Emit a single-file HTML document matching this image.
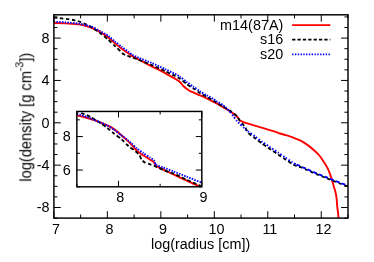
<!DOCTYPE html>
<html><head><meta charset="utf-8"><style>html,body{margin:0;padding:0;background:#fff}body{width:374px;height:262px;overflow:hidden;position:relative;font-family:"Liberation Sans",sans-serif}</style></head><body>
<svg width="374" height="262" viewBox="0 0 374 262" style="position:absolute;left:0;top:0">
<rect width="374" height="262" fill="#fff"/>
<defs><clipPath id="mc"><rect x="53.9" y="14.8" width="294.1" height="203.3"/></clipPath><clipPath id="ic"><rect x="76.8" y="111.5" width="125.0" height="75.4"/></clipPath></defs>
<g clip-path="url(#mc)" fill="none" stroke-linejoin="round">
<path d="M53.7,23.0C55.0,23.0 62.6,23.2 65.4,23.4C68.2,23.6 76.5,24.1 78.7,24.4C80.9,24.7 83.9,25.4 85.4,25.8C86.9,26.2 90.6,27.4 92.1,28.0C93.6,28.6 97.7,30.9 98.8,31.4C99.9,31.9 100.6,32.2 101.7,32.9C102.8,33.6 106.9,36.2 108.4,37.4C109.9,38.6 113.6,42.1 115.1,43.4C116.6,44.7 120.2,47.7 121.7,48.8C123.2,49.9 127.3,52.5 128.4,53.3C129.5,54.1 131.1,55.4 131.4,55.7C132.2,56.1 136.1,58.2 138.4,59.4C140.7,60.6 148.7,64.9 151.7,66.4C154.7,67.9 162.9,71.9 165.1,73.1C167.3,74.3 170.6,76.3 171.7,76.9C172.8,77.5 174.1,78.0 175.0,78.6C175.9,79.2 179.1,81.2 180.0,82.0C180.9,82.8 182.3,85.0 183.3,86.0C184.3,87.0 188.3,90.0 189.4,90.7C190.5,91.4 192.2,92.0 193.4,92.5C194.6,93.0 198.6,94.8 200.1,95.4C201.6,96.0 205.2,97.6 206.7,98.3C208.2,99.0 212.3,101.2 213.4,101.8C214.5,102.4 215.6,102.8 216.7,103.4C217.8,104.0 221.9,106.5 223.4,107.4C224.9,108.3 228.6,110.4 230.1,111.4C231.6,112.4 235.6,115.1 236.7,116.1C237.8,117.1 239.5,120.1 239.9,120.6C240.8,120.9 246.0,122.9 248.4,123.7C250.8,124.5 258.7,126.8 261.7,127.7C264.7,128.6 273.1,131.1 275.1,131.7C277.1,132.3 278.7,133.1 280.0,133.5C281.3,133.9 285.2,134.9 286.7,135.4C288.2,135.9 291.9,137.1 293.4,137.7C294.9,138.3 298.6,139.7 300.1,140.4C301.6,141.1 305.2,143.4 306.7,144.4C308.2,145.4 312.0,148.5 313.4,149.7C314.8,150.9 317.9,153.7 319.0,155.0C320.1,156.3 322.7,160.2 323.7,161.7C324.7,163.2 327.0,166.9 327.7,168.4C328.4,169.9 329.9,173.6 330.4,175.1C330.9,176.6 332.1,180.3 332.5,181.7C332.9,183.1 333.8,186.4 334.1,187.5C334.4,188.6 335.1,190.5 335.4,191.7C335.7,192.9 336.4,196.9 336.6,198.4C336.8,199.9 337.0,203.6 337.1,205.1C337.2,206.6 337.7,210.3 337.9,211.7C338.1,213.1 338.5,217.4 338.6,218.1" stroke="#ff0000" stroke-width="1.9"/>
<path d="M53.7,17.6C54.6,17.7 59.8,18.2 61.4,18.4C63.0,18.6 66.5,18.9 68.0,19.1C69.5,19.3 73.4,20.0 74.7,20.3C76.0,20.6 78.9,21.4 80.1,21.8C81.3,22.2 84.1,23.4 85.4,24.0C86.7,24.6 90.6,26.7 92.1,27.6C93.6,28.5 97.7,31.4 98.8,32.1C99.9,32.8 100.6,33.4 101.7,34.3C102.8,35.2 106.9,38.5 108.4,39.8C109.9,41.1 113.6,44.8 115.1,46.2C116.6,47.6 120.7,51.5 121.7,52.4C122.7,53.3 122.9,53.7 123.7,54.2C124.5,54.7 128.7,56.2 129.3,56.5C130.3,56.7 135.9,58.6 138.4,59.6C140.9,60.6 148.7,63.8 151.7,65.1C154.7,66.4 162.5,69.9 165.1,71.1C167.7,72.3 173.3,75.2 175.0,76.0C176.7,76.8 178.7,77.8 180.0,78.7C181.3,79.6 185.2,82.9 186.7,84.0C188.2,85.1 191.9,87.4 193.4,88.4C194.9,89.4 198.6,92.3 200.1,93.2C201.6,94.1 205.2,96.1 206.7,96.9C208.2,97.7 212.3,99.9 213.4,100.5C214.5,101.1 215.6,101.9 216.7,102.6C217.8,103.3 221.9,105.7 223.4,106.6C224.9,107.5 228.6,109.8 230.1,110.8C231.6,111.8 235.7,115.0 236.7,116.0C237.7,117.0 239.1,119.6 239.4,120.1C239.8,120.5 242.1,123.3 242.8,124.1C243.5,124.9 244.8,126.6 245.4,127.6C246.0,128.6 247.3,131.8 248.4,133.0C249.5,134.2 253.6,137.1 255.1,138.3C256.6,139.5 260.2,142.3 261.7,143.4C263.2,144.5 267.3,147.2 268.4,148.0C269.5,148.8 270.6,149.5 271.7,150.2C272.8,150.9 276.9,153.7 278.4,154.7C279.9,155.7 283.6,158.3 285.1,159.3C286.6,160.3 290.4,163.0 291.7,163.7C293.0,164.4 295.5,165.6 296.5,166.0C297.5,166.4 300.1,167.1 300.5,167.2" stroke="#000" stroke-width="1.8" stroke-dasharray="3.7 2.4" stroke-dashoffset="0"/>
<path d="M53.7,21.9C55.0,21.9 62.6,22.1 65.4,22.3C68.2,22.5 76.5,23.3 78.7,23.6C80.9,23.9 83.9,24.6 85.4,25.0C86.9,25.4 90.6,26.4 92.1,27.0C93.6,27.6 97.0,29.4 98.8,30.4C100.6,31.4 106.6,34.7 108.4,36.0C110.2,37.3 113.6,40.5 115.1,41.7C116.6,42.9 120.2,45.7 121.7,46.8C123.2,47.9 127.3,50.9 128.4,51.7C129.5,52.5 131.1,54.1 131.4,54.4C132.2,54.8 136.1,56.7 138.4,57.7C140.7,58.7 148.7,61.7 151.7,63.0C154.7,64.3 162.5,67.9 165.1,69.1C167.7,70.3 173.3,73.1 175.0,73.9C176.7,74.7 178.7,75.8 180.0,76.7C181.3,77.6 185.2,80.9 186.7,82.0C188.2,83.1 191.9,85.7 193.4,86.7C194.9,87.7 198.6,90.4 200.1,91.4C201.6,92.4 205.2,94.6 206.7,95.4C208.2,96.2 212.3,98.3 213.4,98.9C214.5,99.5 215.6,100.5 216.7,101.2C217.8,101.9 221.9,104.2 223.4,105.4C224.9,106.6 229.4,111.3 230.1,112.0" stroke="#0000ff" stroke-width="1.9" stroke-dasharray="1.5 1.25"/>
<path d="M230.1,112.0C230.5,112.5 232.7,115.1 233.4,116.1C234.1,117.1 236.1,119.9 236.7,120.7C237.3,121.5 238.1,122.1 239.0,123.0C239.9,123.9 243.4,127.4 244.4,128.4C245.4,129.4 247.2,130.8 248.4,131.7C249.6,132.6 253.6,135.4 255.1,136.5C256.6,137.6 260.2,140.4 261.7,141.5C263.2,142.6 267.3,145.3 268.4,146.1C269.5,146.9 270.6,147.6 271.7,148.3C272.8,149.0 276.9,151.8 278.4,152.8C279.9,153.8 283.6,156.4 285.1,157.4C286.6,158.4 290.4,161.1 291.7,161.9C293.0,162.7 296.0,164.3 296.5,164.6" stroke="#0000ff" stroke-width="1.9" stroke-dasharray="1.55 1.75"/>
<path d="M296.2,165.2C296.6,165.4 298.6,166.2 299.8,166.8C300.9,167.2 305.0,169.1 306.4,169.8C307.9,170.4 310.9,171.7 313.1,172.7C315.4,173.6 323.5,177.0 326.4,178.2C329.4,179.3 337.4,182.5 339.9,183.5C342.3,184.4 347.4,186.3 348.4,186.7" stroke="#000" stroke-width="1.8" stroke-dasharray="3.2 2.9" stroke-dashoffset="2.75"/>
<path d="M296.5,164.6C296.9,164.8 298.9,165.6 300.0,166.1C301.1,166.6 305.2,168.4 306.7,169.1C308.2,169.8 311.2,171.1 313.4,172.0C315.6,172.9 323.7,176.3 326.7,177.5C329.7,178.7 337.7,181.9 340.1,182.8C342.5,183.7 347.7,185.6 348.6,186.0" stroke="#0000ff" stroke-width="1.9" stroke-dasharray="3.8 2.3"/>
</g>
<path d="M53.90,218.10v-6.9M53.90,14.80v6.9M80.64,218.10v-3.6M80.64,14.80v3.6M107.37,218.10v-6.9M107.37,14.80v6.9M134.11,218.10v-3.6M134.11,14.80v3.6M160.85,218.10v-6.9M160.85,14.80v6.9M187.58,218.10v-3.6M187.58,14.80v3.6M214.32,218.10v-6.9M214.32,14.80v6.9M241.05,218.10v-3.6M241.05,14.80v3.6M267.79,218.10v-6.9M267.79,14.80v6.9M294.53,218.10v-3.6M294.53,14.80v3.6M321.26,218.10v-6.9M321.26,14.80v6.9M348.00,218.10v-3.6M348.00,14.80v3.6M53.90,218.10h3.6M348.00,218.10h-3.6M53.90,207.51h6.9M348.00,207.51h-6.9M53.90,196.92h3.6M348.00,196.92h-3.6M53.90,186.33h3.6M348.00,186.33h-3.6M53.90,175.75h3.6M348.00,175.75h-3.6M53.90,165.16h6.9M348.00,165.16h-6.9M53.90,154.57h3.6M348.00,154.57h-3.6M53.90,143.98h3.6M348.00,143.98h-3.6M53.90,133.39h3.6M348.00,133.39h-3.6M53.90,122.80h6.9M348.00,122.80h-6.9M53.90,112.21h3.6M348.00,112.21h-3.6M53.90,101.63h3.6M348.00,101.63h-3.6M53.90,91.04h3.6M348.00,91.04h-3.6M53.90,80.45h6.9M348.00,80.45h-6.9M53.90,69.86h3.6M348.00,69.86h-3.6M53.90,59.27h3.6M348.00,59.27h-3.6M53.90,48.68h3.6M348.00,48.68h-3.6M53.90,38.09h6.9M348.00,38.09h-6.9M53.90,27.51h3.6M348.00,27.51h-3.6M53.90,16.92h3.6M348.00,16.92h-3.6" stroke="#000" stroke-width="1" fill="none"/>
<rect x="53.90" y="14.80" width="294.10" height="203.30" fill="none" stroke="#000" stroke-width="1.45"/>
<rect x="76.85" y="111.45" width="124.95" height="75.35" fill="#fff"/>
<g clip-path="url(#ic)" fill="none" stroke-linejoin="round">
<path d="M76.8,115.3C78.0,115.6 85.5,117.5 87.4,118.0C89.3,118.5 92.6,119.5 94.1,120.0C95.6,120.5 99.2,122.1 100.7,122.7C102.2,123.3 105.9,124.7 107.4,125.4C108.9,126.1 112.6,128.1 114.1,129.1C115.6,130.1 119.2,133.3 120.8,134.7C122.4,136.1 127.2,140.3 128.4,141.4C129.6,142.5 130.8,143.9 131.7,144.9C132.6,145.9 135.4,149.4 136.7,150.6C138.0,151.8 141.9,154.5 143.4,155.5C144.9,156.5 148.9,158.9 150.1,159.7C151.3,160.5 153.5,161.7 154.1,162.4C154.7,163.1 155.3,165.3 155.4,165.7C156.3,166.1 161.4,168.7 163.4,169.7C165.4,170.7 170.8,173.2 173.4,174.4C176.0,175.6 183.9,179.4 186.7,180.7C189.5,182.0 197.1,185.3 198.8,186.1C200.5,186.9 201.6,187.4 202.0,187.6" stroke="#ff0000" stroke-width="1.9"/>
<path d="M76.8,111.0C77.4,111.3 80.8,112.8 82.0,113.3C83.2,113.8 86.4,114.9 87.4,115.4C88.4,115.9 90.5,116.9 91.4,117.4C92.3,117.9 94.4,119.4 95.4,120.0C96.4,120.6 99.4,122.1 100.7,123.0C102.0,123.9 105.9,126.9 107.4,128.1C108.9,129.3 112.5,132.3 114.1,133.6C115.7,134.9 120.1,138.0 121.7,139.4C123.3,140.8 126.9,144.7 128.4,146.0C129.9,147.3 134.1,150.2 135.3,151.2C136.5,152.2 138.7,154.1 139.4,155.0C140.1,155.9 141.2,159.2 141.4,159.7C141.8,160.0 143.7,161.9 144.7,162.4C145.7,162.9 148.9,164.0 150.1,164.4C151.3,164.8 153.9,165.8 155.4,166.4C156.9,167.0 161.4,169.2 163.4,170.0C165.4,170.8 170.8,172.5 173.4,173.6C176.0,174.7 183.9,178.4 186.7,179.7C189.5,181.0 197.1,184.3 198.8,185.0C200.5,185.7 201.6,186.2 202.0,186.4" stroke="#000" stroke-width="1.8" stroke-dasharray="3.7 2.4" stroke-dashoffset="1.5"/>
<path d="M76.8,113.8C78.0,114.2 85.5,116.4 87.4,117.1C89.3,117.8 92.6,119.2 94.1,119.8C95.6,120.4 99.2,121.9 100.7,122.5C102.2,123.1 105.9,124.8 107.4,125.6C108.9,126.4 112.6,128.6 114.1,129.6C115.6,130.6 119.2,133.6 120.8,134.8C122.4,136.0 127.2,139.7 128.4,140.7C129.6,141.7 130.8,142.8 131.7,143.6C132.6,144.4 135.4,147.2 136.7,148.3C138.0,149.4 141.9,152.2 143.4,153.2C144.9,154.2 148.9,156.8 150.1,157.6C151.3,158.4 153.5,159.6 154.1,160.4C154.7,161.2 155.3,164.3 155.4,164.8C156.3,165.1 161.4,167.0 163.4,167.7C165.4,168.4 170.8,170.4 173.4,171.4C176.0,172.4 183.7,175.5 186.7,176.7C189.7,177.9 198.4,181.4 200.1,182.1C201.8,182.8 201.8,182.8 202.0,182.9" stroke="#0000ff" stroke-width="1.9" stroke-dasharray="1.5 1.25"/>
</g>
<path d="M76.85,186.80v-3.0M76.85,111.45v3.0M118.50,186.80v-6.0M118.50,111.45v6.0M160.15,186.80v-3.0M160.15,111.45v3.0M201.80,186.80v-6.0M201.80,111.45v6.0M76.85,186.80h3.0M201.80,186.80h-3.0M76.85,170.06h6.0M201.80,170.06h-6.0M76.85,153.31h3.0M201.80,153.31h-3.0M76.85,136.57h6.0M201.80,136.57h-6.0M76.85,119.82h3.0M201.80,119.82h-3.0" stroke="#000" stroke-width="1" fill="none"/>
<rect x="76.85" y="111.45" width="124.95" height="75.35" fill="none" stroke="#000" stroke-width="1.45"/>
<path d="M292.1,25.0H330.3" stroke="#ff0000" stroke-width="1.75"/>
<path d="M292.1,39.7H330.3" stroke="#000" stroke-width="1.75" stroke-dasharray="3.3 2.07"/>
<path d="M292.1,54.4H330.3" stroke="#0000ff" stroke-width="1.8" stroke-dasharray="1.4 1.4"/>
<g font-family="Liberation Sans, sans-serif" font-size="14.4" fill="#000" style="will-change:opacity" opacity="0.999">
<text transform="translate(283.3,29.7) scale(1,1.07)" text-anchor="end">m14(87A)</text>
<text transform="translate(283.3,44.3) scale(1,1.07)" text-anchor="end">s16</text>
<text transform="translate(283.3,59) scale(1,1.07)" text-anchor="end">s20</text>
<text transform="translate(56.0,234.1) scale(1,1.07)" text-anchor="middle">7</text>
<text transform="translate(109.5,234.1) scale(1,1.07)" text-anchor="middle">8</text>
<text transform="translate(162.9,234.1) scale(1,1.07)" text-anchor="middle">9</text>
<text transform="translate(216.4,234.1) scale(1,1.07)" text-anchor="middle">10</text>
<text transform="translate(269.9,234.1) scale(1,1.07)" text-anchor="middle">11</text>
<text transform="translate(323.4,234.1) scale(1,1.07)" text-anchor="middle">12</text>
<text transform="translate(49.6,42.8) scale(1,1.07)" text-anchor="end">8</text>
<text transform="translate(49.6,85.1) scale(1,1.07)" text-anchor="end">4</text>
<text transform="translate(49.6,127.5) scale(1,1.07)" text-anchor="end">0</text>
<text transform="translate(49.6,169.9) scale(1,1.07)" text-anchor="end">-4</text>
<text transform="translate(49.6,212.2) scale(1,1.07)" text-anchor="end">-8</text>
<text transform="translate(120.3,202.1) scale(1,1.07)" text-anchor="middle">8</text>
<text transform="translate(203.6,202.1) scale(1,1.07)" text-anchor="middle">9</text>
<text transform="translate(70.8,141.3) scale(1,1.07)" text-anchor="end">8</text>
<text transform="translate(70.8,174.8) scale(1,1.07)" text-anchor="end">6</text>
<text transform="translate(200.6,249.1) scale(1,1.07)" text-anchor="middle">log(radius [cm])</text>
<text transform="translate(31.1,117.2) rotate(-90) scale(1,1.10)" font-size="14.65" text-anchor="middle">log(density [g cm<tspan font-size="10.6" dy="-7.3">-3</tspan><tspan dy="7.3">])</tspan></text>
</g>
</svg>
</body></html>
